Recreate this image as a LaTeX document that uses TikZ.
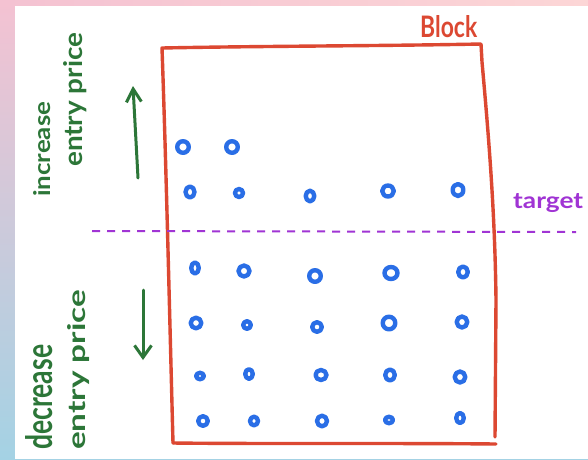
\documentclass[tikz,border=0pt]{standalone}
\usepackage{fontspec}
\setmainfont{Lato}
\usepackage{graphicx}
\usetikzlibrary{arrows.meta}

\definecolor{blockred}{RGB}{220,72,50}
\definecolor{markgreen}{RGB}{44,118,56}
\definecolor{dotblue}{RGB}{42,110,230}
\definecolor{tgtpurple}{RGB}{160,52,212}
\definecolor{edgepink}{RGB}{244,194,210}
\definecolor{edgepeach}{RGB}{252,214,214}
\definecolor{edgeblue}{RGB}{164,210,228}

\tikzset{
  pen/.style={line cap=round, line join=round},
  blockline/.style={pen, draw=blockred, line width=3.4pt},
  shiftarrow/.style={pen, draw=markgreen, line width=3pt},
  targetline/.style={draw=tgtpurple, line width=2pt, dash pattern=on 8pt off 7pt},
  dotpen/.style={pen, draw=dotblue, line width=4.4pt},
  label/.style={inner sep=0pt, anchor=base west, font=\bfseries},
  sidelabel/.style={label, text=markgreen, rotate=90},
}

\begin{document}
\begin{tikzpicture}[x=1pt, y=-1pt]
\useasboundingbox (0,0) rectangle (588,459);

% framed page: gradient edge with a white sheet on top
\shade[top color=edgepink, bottom color=edgeblue] (0,0) rectangle (588,459);
\shade[left color=edgepink, right color=edgepeach] (0,0) rectangle (588,6);
\fill[white] (15,6) rectangle (588,459);

% the block outline
\draw[blockline] (173,443) .. controls (170,330) and (166,160) .. (162,48)
  .. controls (260,46) and (380,46) .. (481,44) -- (482,62)
  .. controls (490,150) and (495,220) .. (496,300) -- (495,437);
\draw[blockline] (496,444) .. controls (400,443) and (260,444) .. (173,443);
\node[label, text=blockred] (blocklbl) at (420,37) {\resizebox{57pt}{22pt}{Block}};

% target level
\coordinate (tgtL) at (92,231);
\coordinate (tgtR) at (576,232);
\draw[targetline] (tgtL) -- (tgtR);
\node[label, text=tgtpurple] (tgtlbl) at (513,208) {\resizebox{70pt}{15pt}{target}};

% price direction labels
\node[sidelabel] (incr) at (50,197) {\resizebox{95pt}{17pt}{increase}};
\node[sidelabel] (entryup) at (82,167) {\resizebox{134pt}{19pt}{entry price}};
\node[sidelabel] (decr) at (52,450) {\resizebox{105pt}{27pt}{decrease}};
\node[sidelabel] (entrydown) at (85,450) {\resizebox{160pt}{18pt}{entry price}};

% direction arrows
\coordinate (upTail) at (138,178);
\coordinate (upHead) at (133,86);
\draw[shiftarrow, -{Straight Barb[length=13pt, width=15pt, line width=3pt]}] (upTail) -- (upHead);
\coordinate (downTail) at (143,290);
\coordinate (downHead) at (143,360);
\draw[shiftarrow, -{Straight Barb[length=12pt, width=17pt, line width=3pt]}] (downTail) -- (downHead);

% transactions in the block
\foreach \x/\y/\rx/\ry in {
  183/147/5.8/5.8, 232/147/5.8/5.8,
  190/192/4.5/5.5, 239/193/4.0/4.0, 310/196/4.3/5.3, 388/191/5.8/5.5, 458/190/5.3/6.0,
  195/268/3.8/5.5, 244/271/5.5/5.5, 315/276/5.8/5.8, 391/273/6.5/6.0, 463/272/4.8/5.5,
  196/323/5.3/5.3, 247/325/3.8/3.8, 317/327/4.8/4.8, 389/323/6.3/6.3, 462/322/5.3/5.5,
  200/376/3.8/3.2, 249/374/3.8/4.8, 321/375/5.5/5.0, 390/375/4.8/5.5, 460/377/5.3/5.5,
  203/421/4.8/4.8, 254/421/4.0/4.3, 322/421/5.0/5.3, 389/420/4.0/3.2, 460/418/3.8/5.0}
  \draw[dotpen] (\x,\y) ellipse [x radius=\rx, y radius=\ry];

\end{tikzpicture}
\end{document}
